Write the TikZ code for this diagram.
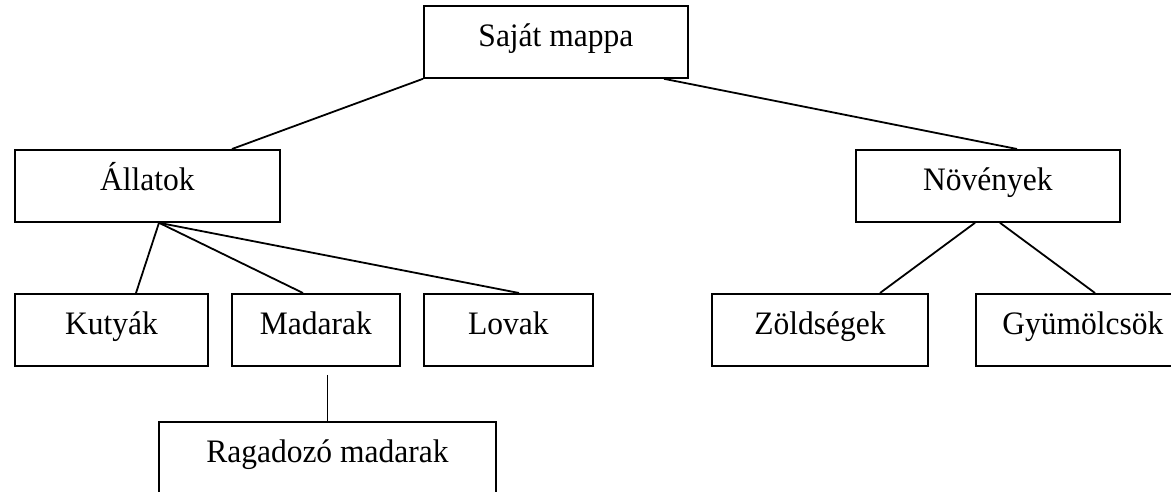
\documentclass[tikz,border=0pt]{standalone}
\usepackage{fontspec}
\setmainfont{Liberation Serif}
\begin{document}
\begin{tikzpicture}[x=1pt,y=-1pt,
  box/.style={draw=black, line width=1.8pt, anchor=north west, inner xsep=0pt, inner ysep=0pt,
    minimum height=72pt, text height=41pt, text depth=31pt,
    font=\fontsize{31.5}{36}\selectfont},
  conn/.style={draw=black, line width=1.8pt}]
\clip (0,0) rectangle (1171,492);
\fill[white] (0,0) rectangle (1171,492);
\node[box, minimum width=264pt] (saj) at (423,5) {\scalebox{1}[1.04]{Saját mappa}};
\node[box, minimum width=265pt] (all) at (14,149) {\scalebox{1}[1.04]{Állatok}};
\node[box, minimum width=264pt] (nov) at (855,149) {\scalebox{1}[1.04]{Növények}};
\node[box, minimum width=193pt] (kut) at (14,293) {\scalebox{1}[1.04]{Kutyák}};
\node[box, minimum width=168pt] (mad) at (231,293) {\scalebox{1}[1.04]{Madarak}};
\node[box, minimum width=169pt] (lov) at (423,293) {\scalebox{1}[1.04]{Lovak}};
\node[box, minimum width=337pt] (rag) at (158,421) {\scalebox{1}[1.04]{Ragadozó madarak}};
\node[box, minimum width=216pt] (zol) at (711,293) {\scalebox{1}[1.04]{Zöldségek}};
\node[box, minimum width=214pt] (gyu) at (975,293) {\scalebox{1}[1.04]{Gyümölcsök}};
\draw[conn] (saj.south west) -- ([xshift=218pt]all.north west);
\draw[conn] ([xshift=241pt]saj.south west) -- ([xshift=162pt]nov.north west);
\draw[conn] ([xshift=145pt]all.south west) -- ([xshift=122pt]kut.north west);
\draw[conn] ([xshift=145pt]all.south west) -- ([xshift=72pt]mad.north west);
\draw[conn] ([xshift=145pt]all.south west) -- ([xshift=96pt]lov.north west);
\draw[conn] ([xshift=96.5pt,yshift=-8pt]mad.south west) -- ([xshift=169.5pt]rag.north west);
\draw[conn] ([xshift=120pt]nov.south west) -- ([xshift=169pt]zol.north west);
\draw[conn] ([xshift=145pt]nov.south west) -- ([xshift=120pt]gyu.north west);
\end{tikzpicture}
\end{document}
